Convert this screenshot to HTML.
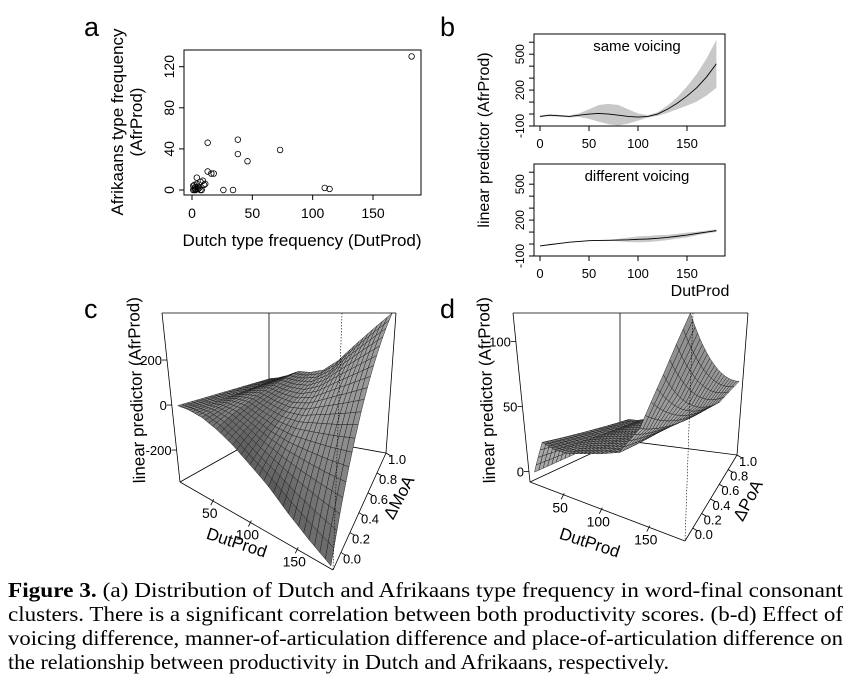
<!DOCTYPE html>
<html><head><meta charset="utf-8">
<style>
html,body{margin:0;padding:0;background:#fff;}
svg{display:block;font-family:"Liberation Sans",sans-serif;}
</style></head>
<body>
<svg id="fig" width="852" height="684" viewBox="0 0 852 684" xmlns="http://www.w3.org/2000/svg">
  <g id="pa"></g>
  <g id="pb"></g>
  <g id="pc"></g>
  <g id="pd"></g>
  <text x="84" y="36" font-size="27">a</text>
  <text x="440" y="36" font-size="27">b</text>
  <text x="84" y="318" font-size="27">c</text>
  <text x="440" y="318" font-size="27">d</text>
  <g font-family="Liberation Serif, serif" font-size="21">
    <text x="8" y="597" textLength="835" lengthAdjust="spacingAndGlyphs"><tspan font-weight="bold">Figure 3.</tspan> (a) Distribution of Dutch and Afrikaans type frequency in word-final consonant</text>
    <text x="8" y="621" textLength="835" lengthAdjust="spacingAndGlyphs">clusters. There is a significant correlation between both productivity scores. (b-d) Effect of</text>
    <text x="8" y="645" textLength="835" lengthAdjust="spacingAndGlyphs">voicing difference, manner-of-articulation difference and place-of-articulation difference on</text>
    <text x="8" y="669" textLength="661" lengthAdjust="spacingAndGlyphs">the relationship between productivity in Dutch and Afrikaans, respectively.</text>
  </g>
</svg>
<script>
// ---- Panel a data ----
const scatterDut = [182,13,38,38,73,46,13,16,18,26,34,110,114,2,3,4,2,5,7,9,10,8,3,1,6,4,11,2,7,1,3,5];
const scatterAfr = [130,46,49,35,39,28,18,16,16,0,0,2,1,0,1,12,5,3,8,9,5,0,3,0,2,6,6,2,0,4,0,1];
const aXTicks = [0,50,100,150];
const aYTicks = [0,40,80,120];
// ---- Panel b data ----
const bX = [0,10,20,30,40,50,60,70,80,90,100,110,120,130,140,150,160,170,180];
const sameFit = [-20,-10,-15,-20,-10,0,5,0,-10,-20,-25,-20,0,40,90,150,220,310,420];
const sameSE  = [8,8,8,8,15,40,70,85,85,60,30,10,15,30,50,80,115,155,200];
const diffFit = [-16,-5,5,15,22,28,30,31,33,35,39,42,48,55,65,75,88,100,112];
const diffSE  = [3,3,3,3,3,3,4,5,10,18,25,25,25,22,20,20,15,12,10];
const bXTicks = [0,50,100,150];
const bYTicks = [-100,0,100,200,300,400,500,600];
const bYLabels = [-100,200,500];
// ---- Panel c data (surface z at ΔMoA = 0, 0.5, 1) ----
const cDut = [0,20,40,60,80,100,120,140,160,180];
const cFront = [0,-5,-20,-50,-90,-140,-190,-250,-300,-342];
const cMid = [0,-5,10,15,-10,-30,-30,-10,10,33];
const cBack = [0,10,30,60,60,80,140,230,320,409];
// ---- Panel d data (surface z at ΔPoA = 0, 0.5, 1) ----
const dDut = [0,20,40,60,80,100,120,140,160,180];
const dFront = [0,25,22,22,25,28,32,50,85,122];
const dMid = [0,20,18,20,22,25,28,38,55,85];
const dBack = [0,15,15,18,20,22,25,30,40,60];
const zTicksC = [-200,0,200];
const zTicksD = [0,50,100];
const dutTicks3 = [50,100,150];
const mTicks = [0,0.2,0.4,0.6,0.8,1.0];

const NS = "http://www.w3.org/2000/svg";
function mk(parent, tag, attrs, txt){
  const e = document.createElementNS(NS, tag);
  for (const k in attrs) e.setAttribute(k, attrs[k]);
  if (txt !== undefined) e.textContent = txt;
  parent.appendChild(e);
  return e;
}

// ===== Panel a =====
(function(){
  const g = document.getElementById('pa');
  const x = v => 192 + v*(181/150);
  const y = v => 190 - v*(123.3/120);
  const box = mk(g,'rect',{x:184,y:50,width:237,height:145,fill:'none',stroke:'#000','stroke-width':1});
  
  
  aXTicks.forEach(t=>{
    const l = mk(g,'line',{x1:x(t),x2:x(t),y1:195,y2:200,stroke:'#000'});
     
    const tx = mk(g,'text',{x:x(t),y:218,'font-size':14,'text-anchor':'middle'},String(t));
     
  });
  aYTicks.forEach(t=>{
    const l = mk(g,'line',{x1:179,x2:184,y1:y(t),y2:y(t),stroke:'#000'});
     
    const tx = mk(g,'text',{x:0,y:0,'font-size':14,'text-anchor':'middle',transform:`translate(174,${y(t)}) rotate(-90)`},String(t));
     
  });
  scatterDut.forEach((d,i)=>{
    const c = mk(g,'circle',{cx:x(d),cy:y(scatterAfr[i]),r:2.8,fill:'none',stroke:'#000','stroke-width':0.8});
     
  });
  const xt = mk(g,'text',{x:302,y:246,'font-size':17,'text-anchor':'middle'},'Dutch type frequency (DutProd)');
   
  const yt1 = mk(g,'text',{x:0,y:0,'font-size':17,'text-anchor':'middle',transform:'translate(123,122) rotate(-90)'},'Afrikaans type frequency');
   
  const yt2 = mk(g,'text',{x:0,y:0,'font-size':17,'text-anchor':'middle',transform:'translate(142,122) rotate(-90)'},'(AfrProd)');
   
})();

// ===== Panel b =====
(function(){
  const g = document.getElementById('pb');
  const x = v => 540 + v*(147/150);
  function panel(top, fit, se, title, nm){
    const bottom = top+92;
    const y = v => bottom - (v+100)*(11.97/100);
    const band = [];
    bX.forEach((d,i)=>band.push(x(d)+','+y(fit[i]+se[i])));
    for(let i=bX.length-1;i>=0;i--) band.push(x(bX[i])+','+y(fit[i]-se[i]));
    const p = mk(g,'polygon',{points:band.join(' '),fill:'#c8c8c8',stroke:'none'});
     
    const ln = mk(g,'polyline',{points:bX.map((d,i)=>x(d)+','+y(fit[i])).join(' '),fill:'none',stroke:'#000','stroke-width':0.9});
     
    const r = mk(g,'rect',{x:534,y:top,width:191,height:92,fill:'none',stroke:'#000'});
     
    bXTicks.forEach(t=>{
      const l = mk(g,'line',{x1:x(t),x2:x(t),y1:bottom,y2:bottom+5,stroke:'#000'});
       
      const tx = mk(g,'text',{x:x(t),y:bottom+22,'font-size':13,'text-anchor':'middle'},String(t));
       
    });
    bYTicks.forEach(t=>{
      const l = mk(g,'line',{x1:529,x2:534,y1:y(t),y2:y(t),stroke:'#000'});
       
    });
    bYLabels.forEach(t=>{
      const tx = mk(g,'text',{x:0,y:0,'font-size':12,'text-anchor':'middle',transform:`translate(524,${y(t)}) rotate(-90)`},String(t));
       
    });
    const tt = mk(g,'text',{x:637,y:top+17,'font-size':15,'text-anchor':'middle'},title);
     
  }
  panel(34, sameFit, sameSE, 'same voicing', 'same-voicing');
  panel(164, diffFit, diffSE, 'different voicing', 'different-voicing');
  const xt = mk(g,'text',{x:700,y:296,'font-size':16,'text-anchor':'middle'},'DutProd');
   
  const yt = mk(g,'text',{x:0,y:0,'font-size':16,'text-anchor':'middle',transform:'translate(489,140) rotate(-90)'},'linear predictor (AfrProd)');
   
})();

// ===== 3D surfaces =====
function surface(gid, cfg, dutArr, zf, zm, zb){
  const g = document.getElementById(gid);
  const B=cfg.B, T=cfg.T, zMin=cfg.zMin, zMax=cfg.zMax, dMax=180;
  const uOf = d => 0.024 + 0.00311*d + 1.22e-5*d*d;
  const vOf = m => 0.02 + 0.96*m;
  function bil(Q,u,v){
    const x=(1-u)*(1-v)*Q[0][0][0]+u*(1-v)*Q[1][0][0]+u*v*Q[1][1][0]+(1-u)*v*Q[0][1][0];
    const y=(1-u)*(1-v)*Q[0][0][1]+u*(1-v)*Q[1][0][1]+u*v*Q[1][1][1]+(1-u)*v*Q[0][1][1];
    return [x,y];
  }
  function Pr(u,v,z){
    const w=(z-zMin)/(zMax-zMin);
    const b=bil(B,u,v), t=bil(T,u,v);
    return [b[0]+(t[0]-b[0])*w, b[1]+(t[1]-b[1])*w];
  }
  const P=(d,m,z)=>Pr(uOf(d),vOf(m),z);
  function interp(arr,d){
    for(let i=0;i<dutArr.length-1;i++){
      if(d<=dutArr[i+1]){const f=(d-dutArr[i])/(dutArr[i+1]-dutArr[i]);return arr[i]+(arr[i+1]-arr[i])*f;}
    }
    return arr[arr.length-1];
  }
  function Z(d,m){
    const a=interp(zf,d), b=interp(zm,d), c=interp(zb,d);
    return a*(1-m)*(1-2*m) + b*4*m*(1-m) + c*m*(2*m-1);
  }
  const line=(p,q,extra)=>mk(g,'line',Object.assign({x1:p[0],y1:p[1],x2:q[0],y2:q[1],stroke:'#000','stroke-width':0.8},extra||{}));
  let e;
  e=line(Pr(0,1,zMax),Pr(0,1,zMin));  
  e=line(Pr(0,0,zMin),Pr(0,1,zMin));  
  e=line(Pr(0,1,zMin),Pr(1,1,zMin));  
  const NU=36, NV=20, cells=[];
  const zr=zMax-zMin;
  for(let i=0;i<NU;i++)for(let j=0;j<NV;j++){
    const d0=i*dMax/NU,d1=(i+1)*dMax/NU,m0=j/NV,m1=(j+1)/NV;
    const z00=Z(d0,m0),z10=Z(d1,m0),z11=Z(d1,m1),z01=Z(d0,m1);
    const zu=((z10+z11)-(z00+z01))/2/zr*NU, zv=((z01+z11)-(z00+z10))/2/zr*NV;
    const n=[-zu,-zv,1], nl=Math.hypot(n[0],n[1],n[2]);
    const L=cfg.light, ll=Math.hypot(L[0],L[1],L[2]);
    let s=(n[0]*L[0]+n[1]*L[1]+n[2]*L[2])/nl/ll; s=Math.max(0,s);
    const gray=Math.round(cfg.g0+cfg.g1*s);
    const pts=[P(d0,m0,z00),P(d1,m0,z10),P(d1,m1,z11),P(d0,m1,z01)];
    cells.push({depth:cfg.depth((d0+d1)/2/dMax,(m0+m1)/2),pts,gray});
  }
  cells.sort((a,b)=>b.depth-a.depth);
  cells.forEach(c=>{
    const p=mk(g,'polygon',{points:c.pts.map(q=>q[0].toFixed(1)+','+q[1].toFixed(1)).join(' '),fill:`rgb(${c.gray},${c.gray},${c.gray})`,stroke:'#1a1a1a','stroke-width':0.45});
    
    
  });
  e=line(Pr(0,0,zMax),Pr(0,0,zMin));  
  e=line(Pr(0,0,zMin),Pr(1,0,zMin));  
  e=line(Pr(1,0,zMin),Pr(1,1,zMin));  
  e=line(Pr(1,1,zMin),Pr(1,1,zMax));  
  e=line(Pr(0,0,zMax),Pr(1,1,zMax));  
  e=line(Pr(1,0,zMax),Pr(1,0,zMin),{'stroke-dasharray':'1.5,1.5','stroke-width':0.6});  
  cfg.zTicks.forEach(t=>{
    const p=Pr(0,0,t);
    const l=line(p,[p[0]-5,p[1]]);  
    const tx=mk(g,'text',{x:p[0]-5,y:p[1]+5,'font-size':13,'text-anchor':'end'},String(t));
     
  });
  dutTicks3.forEach(t=>{
    const p=P(t,0,zMin);
    const l=line(p,[p[0]-3,p[1]+6]);  
    const tx=mk(g,'text',{x:p[0]-4,y:p[1]+19,'font-size':14,'text-anchor':'middle'},String(t));
     
  });
  mTicks.forEach(t=>{
    const p=Pr(1,0.15+0.85*t,zMin);
    const l=line(p,[p[0]+5,p[1]+3]);  
    const tx=mk(g,'text',{x:p[0]+2,y:p[1]+11,'font-size':13},t.toFixed(1));
     
  });
  let t=mk(g,'text',{x:0,y:0,'font-size':17,'text-anchor':'middle',transform:`translate(${cfg.zt[0]},${cfg.zt[1]}) rotate(-92)`},'linear predictor (AfrProd)');
   
  t=mk(g,'text',{x:0,y:0,'font-size':17,'text-anchor':'middle',transform:`translate(${cfg.xt[0]},${cfg.xt[1]}) rotate(18)`},'DutProd');
   
  t=mk(g,'text',{x:0,y:0,'font-size':17,'text-anchor':'middle',transform:`translate(${cfg.mt[0]},${cfg.mt[1]}) rotate(-62)`},cfg.mName);
   
}

surface('pc',{
  B:[[[180,482],[269,432]],[[333,570],[386,453]]],
  T:[[[162,313],[269,313]],[[342,313],[396,313]]],
  zMin:-342,zMax:409,zTicks:zTicksC,light:[-0.5,-0.3,0.8],g0:25,g1:140,
  depth:(u,v)=>v*1.2-u,
  zt:[142,390],xt:[235,548],mt:[404,500],mName:'ΔMoA'
},cDut,cFront,cMid,cBack);

surface('pd',{
  B:[[[530,482],[620,440]],[[685,541],[737,455]]],
  T:[[[513,313],[620,313]],[[693,313],[748,313]]],
  zMin:-8,zMax:122,zTicks:zTicksD,light:[-0.6,-0.3,0.7],g0:20,g1:165,
  depth:(u,v)=>v*1.2-u,
  zt:[492,390],xt:[588,548],mt:[753,503],mName:'ΔPoA'
},dDut,dFront,dMid,dBack);
</script>
</body></html>
